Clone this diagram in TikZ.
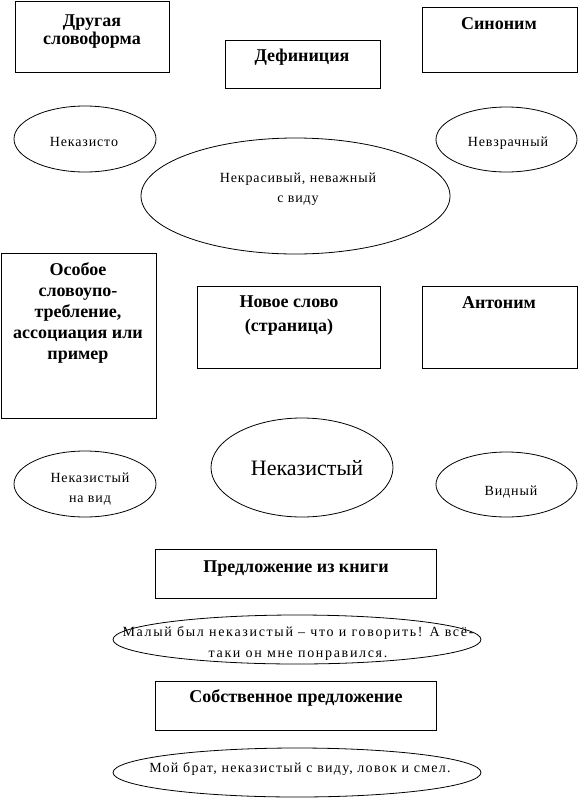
\documentclass[tikz,border=0pt]{standalone}
\usepackage{fontspec}
\setmainfont{Liberation Serif}
\newfontfamily\widefont[LetterSpace=6]{Liberation Serif}
\newfontfamily\midfont[LetterSpace=9]{Liberation Serif}
\newfontfamily\widerfont[LetterSpace=12]{Liberation Serif}
\usetikzlibrary{shapes.geometric,positioning}
\tikzset{
  box/.style={draw,rectangle,inner sep=0pt},
  oval/.style={draw,ellipse,inner sep=0pt},
  head/.style={anchor=base,align=center,inner sep=0pt,font=\bfseries\fontsize{18}{18}\selectfont},
  note/.style={anchor=base,align=center,inner sep=0pt,font=\widefont\fontsize{14}{20}\selectfont},
}
\begin{document}
\begin{tikzpicture}[x=1pt,y=-1pt,line width=0.8pt]
  \useasboundingbox (0,0) rectangle (578,801);
  % rectangles
  \node[box,minimum width=154pt,minimum height=71pt] (form) at (92,36.5) {};
  \node[box,minimum width=155pt,minimum height=48pt] (defin) at (302.5,64) {};
  \node[box,minimum width=155pt,minimum height=65pt] (syn) at (499.5,39.5) {};
  \node[box,minimum width=155pt,minimum height=165pt] (usage) at (78.5,335.5) {};
  \node[box,minimum width=183pt,minimum height=82pt] (word) at (288.5,327) {};
  \node[box,minimum width=155pt,minimum height=82pt] (ant) at (499.5,327) {};
  \node[box,minimum width=281pt,minimum height=49pt] (book) at (295.5,573.5) {};
  \node[box,minimum width=281pt,minimum height=49pt] (own) at (295.5,705.5) {};
  % ellipses
  \node[oval,minimum width=142pt,minimum height=66pt] (nekaz) at (85,139) {};
  \node[oval,minimum width=141pt,minimum height=65pt] (nevzr) at (506.5,139.5) {};
  \node[oval,minimum width=309pt,minimum height=116pt] (meaning) at (295.5,196) {};
  \node[oval,minimum width=142pt,minimum height=66pt] (navid) at (85,484) {};
  \node[oval,minimum width=182pt,minimum height=99pt] (main) at (302,467.5) {};
  \node[oval,minimum width=141pt,minimum height=65pt] (vidny) at (506.5,484.5) {};
  \node[oval,minimum width=368pt,minimum height=49pt] (quote) at (297,639.5) {};
  \node[oval,minimum width=368pt,minimum height=49pt] (mine) at (297,772.5) {};
  % headings (base = last line)
  \node[head] (form-t) at (92,44) {Другая\\словоформа};
  \node[head] (defin-t) at (302,61) {Дефиниция};
  \node[head] (syn-t) at (499,29) {Синоним};
  \node[head,font=\bfseries\fontsize{18}{21}\selectfont] (usage-t) at (78,359)
    {Особое\\словоупо-\\требление,\\ассоциация или\\пример};
  \node[head,font=\bfseries\fontsize{18}{24}\selectfont] (word-t) at (289,331) {Новое слово\\(страница)};
  \node[head] (ant-t) at (499,308) {Антоним};
  \node[head] (book-t) at (296,572) {Предложение из книги};
  \node[head] (own-t) at (296,702) {Собственное предложение};
  % texts in ellipses
  \node[note] (nekaz-t) at (84,146) {Неказисто};
  \node[note] (nevzr-t) at (508,146) {Невзрачный};
  \node[note] (meaning-t) at (298,202) {Некрасивый, неважный\\с виду};
  \node[note] (navid-t) at (90,502) {Неказистый\\на вид};
  \node[note,font=\fontsize{22}{24}\selectfont] (main-t) at (307,475) {Неказистый};
  \node[note] (vidny-t) at (511,495) {Видный};
  \node[note,font=\widerfont\fontsize{14}{21}\selectfont] (quote-t) at (298,657)
    {Малый был неказистый – что и говорить! А всё-\\таки он мне понравился.};
  \node[note,font=\midfont\fontsize{14}{20}\selectfont] (mine-t) at (300,772) {Мой брат, неказистый с виду, ловок и смел.};
\end{tikzpicture}
\end{document}
